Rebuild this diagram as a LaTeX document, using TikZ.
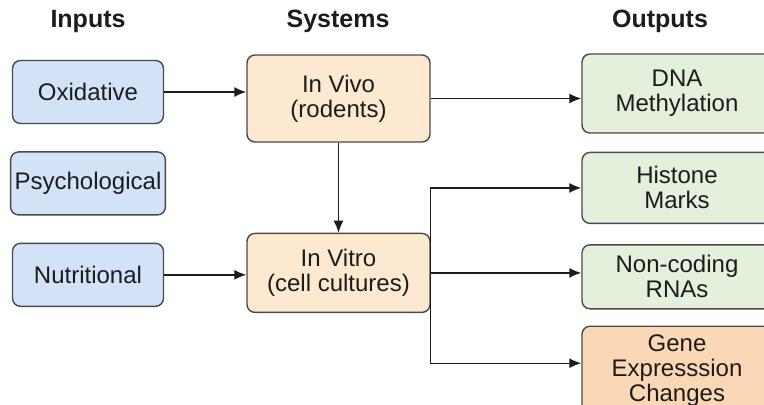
\documentclass[tikz,border=0pt]{standalone}
\usepackage{fontspec}
\setmainfont{Liberation Sans}
\usepackage{xcolor}
\usetikzlibrary{positioning,arrows.meta}

\definecolor{inblue}{HTML}{D3E3F7}
\definecolor{syspeach}{HTML}{FDE9CF}
\definecolor{outgreen}{HTML}{E3F0DC}
\definecolor{geneorange}{HTML}{FBD8B5}
\definecolor{boxline}{HTML}{4A4A4A}
\definecolor{txt}{HTML}{1C1C1C}

\begin{document}
\begin{tikzpicture}[
		x=0.5pt, y=-0.5pt,
		box/.style={rectangle, rounded corners=4pt, draw=boxline, line width=0.7pt, align=center, text=txt, inner sep=2pt, font=\fontsize{12}{12.5}\selectfont},
		inbox/.style={box, fill=inblue, minimum width=75.5pt, minimum height=31.5pt},
		sysbox/.style={box, fill=syspeach, minimum width=91.5pt},
		outbox/.style={box, fill=outgreen, minimum width=95pt},
		header/.style={anchor=base, text=txt, font=\bfseries\fontsize{12.5}{14}\selectfont},
		arrow/.style={-{Latex[length=6pt,width=5pt]}, line width=0.7pt, draw=txt},
		]
		\useasboundingbox (0,0) rectangle (764,404);
		\clip (0,0) rectangle (764,404);

		%Headers
		\node[header]	(h_in)		at (88,27)		{Inputs};
		\node[header]	(h_sys)		at (338,27)		{Systems};
		\node[header]	(h_out)		at (660,27)		{Outputs};

		%Inputs
		\node[inbox]	(oxid)		at (88,92)					{Oxidative};
		\node[inbox]	(psych)		[below=13.5pt of oxid]		{Psychological};
		\node[inbox]	(nutr)		[below=13.5pt of psych]		{Nutritional};

		%Systems
		\node[sysbox, minimum height=43.5pt]	(invivo)	at (338.5,98.5)			{In Vivo\\(rodents)};
		\node[sysbox, minimum height=39.5pt]	(invitro)	[below=45pt of invivo]	{In Vitro\\(cell cultures)};

		%Outputs
		\node[outbox, minimum height=39.5pt]	(dna)		at (677,93.5)			{DNA\\Methylation};
		\node[outbox, minimum height=35.5pt]	(histone)	[below=9pt of dna]		{Histone\\Marks};
		\node[outbox, minimum height=32pt]		(noncod)	[below=10pt of histone]	{Non-coding\\RNAs};
		\node[outbox, fill=geneorange, minimum height=44pt]	(gene)	[below=8pt of noncod]	{Gene\\Expresssion\\Changes};

		%Connectors
		\draw[arrow]	(oxid.east)		--	(invivo.west |- oxid.east);
		\draw[arrow]	(nutr.east)		--	(invitro.west |- nutr.east);
		\draw[arrow]	(invivo.east)	--	(invivo.east -| dna.west);
		\draw[arrow]	(invivo.south)	--	(invitro.north);
		\draw[arrow]	(invitro.east)	|-	(histone.west);
		\draw[arrow]	(invitro.east)	--	(invitro.east -| noncod.west);
		\draw[arrow]	(invitro.east)	|-	([yshift=3.5pt]gene.west);
	\end{tikzpicture}
\end{document}
